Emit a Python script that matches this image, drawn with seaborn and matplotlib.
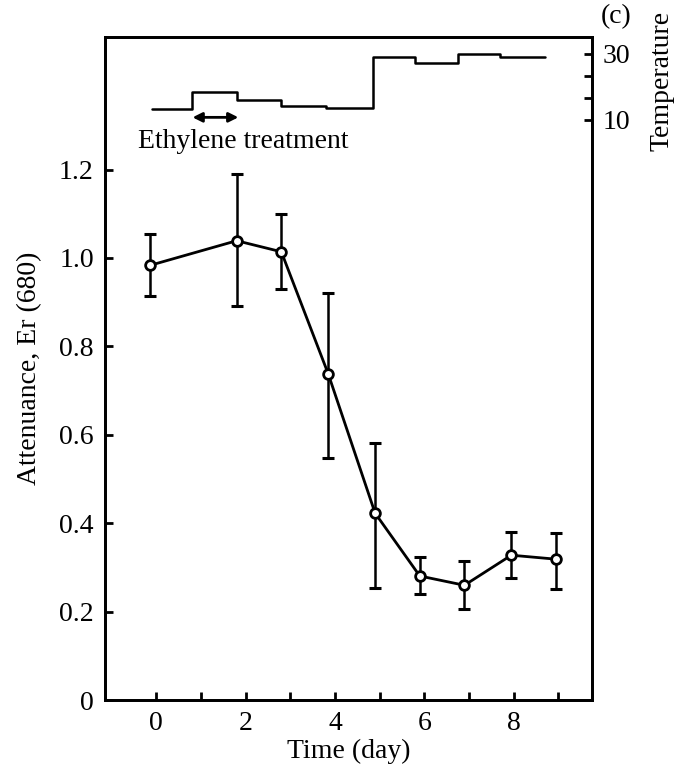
import numpy as np
import pandas as pd
import matplotlib
matplotlib.use("Agg")
import matplotlib.pyplot as plt
import seaborn as sns

# ── Data ─────────────────────────────────────────────────────
days = [-0.15, 1.8, 2.8, 3.85, 4.9, 5.9, 6.9, 7.95, 8.95]
attenuance = [0.983, 1.039, 1.014, 0.738, 0.423, 0.281, 0.260, 0.328, 0.319]
err_upper = [1.055, 1.190, 1.100, 0.921, 0.582, 0.324, 0.315, 0.380, 0.378]
err_lower = [0.915, 0.892, 0.930, 0.548, 0.254, 0.240, 0.206, 0.276, 0.251]

temp_days = [-0.1, 0.8, 1.8, 2.8, 3.8, 4.85, 5.8, 6.75, 7.7, 8.7]
temp_vals = [13.3, 18.5, 16.1, 14.2, 13.6, 29.1, 27.3, 30.0, 29.1, 29.1]

x_ticks = [0, 2, 4, 6, 8]
y_ticks = [0, 0.2, 0.4, 0.6, 0.8, 1.0, 1.2]
y_tick_labels = ["0", "0.2", "0.4", "0.6", "0.8", "1.0", "1.2"]
t_ticks = [10, 16.67, 23.33, 30]
t_tick_labels = ["10", "", "", "30"]

df = pd.DataFrame({"day": days, "att": attenuance})
tdf = pd.DataFrame({"day": temp_days, "temp": temp_vals})

sns.set_theme(style="ticks")
plt.rcParams["font.family"] = ["Liberation Serif", "DejaVu Serif"]
plt.rcParams["font.size"] = 20
plt.rcParams["text.color"] = "black"
plt.rcParams["axes.labelcolor"] = "black"
plt.rcParams["xtick.color"] = "black"
plt.rcParams["ytick.color"] = "black"
plt.rcParams["axes.edgecolor"] = "black"

fs = 20
fig = plt.figure(figsize=(6.77, 7.67), dpi=100)
ax = fig.add_axes([0.155, 0.087, 0.719, 0.865])

# error bars
yerr = [np.array(attenuance) - np.array(err_lower),
        np.array(err_upper) - np.array(attenuance)]
ax.errorbar(days, attenuance, yerr=yerr, fmt="none", ecolor="black",
            elinewidth=1.8, capsize=4, capthick=2.2, zorder=2)

sns.lineplot(data=df, x="day", y="att", ax=ax, color="black", lw=2,
             marker="o", markersize=7, markerfacecolor="white",
             markeredgecolor="black", markeredgewidth=2, zorder=3)

ax.set_xlim(-1.15, 9.75)
ax.set_ylim(0, 1.5)
ax.set_xticks(x_ticks)
ax.set_xticks([1, 3, 5, 7, 9], minor=True)
ax.set_yticks(y_ticks)
ax.set_yticklabels(y_tick_labels)
ax.tick_params(axis="both", which="both", direction="in", length=6, width=2,
               labelsize=fs, pad=8)
ax.set_xlabel("Time (day)", fontsize=fs, labelpad=2)
ax.set_ylabel("Attenuance, Er (680)", fontsize=fs, labelpad=12)
for s in ax.spines.values():
    s.set_linewidth(2)

# temperature on a twin axis
ax2 = ax.twinx()
sns.lineplot(data=tdf, x="day", y="temp", ax=ax2, color="black", lw=1.8,
             drawstyle="steps-post")
ax2.set_ylim(-165.8, 35.2)
ax2.set_yticks(t_ticks)
ax2.set_yticklabels(t_tick_labels)
ax2.tick_params(axis="y", direction="in", length=6, width=2, labelsize=fs, pad=8)
ax2.set_ylabel("")
ax2.set_xlabel("")
for s in ax2.spines.values():
    s.set_linewidth(2)

ax2.annotate("", xy=(0.75, 10.8), xytext=(1.9, 10.8),
             arrowprops=dict(arrowstyle="<|-|>", color="black", lw=2,
                             mutation_scale=14))
ax2.text(-0.42, 3.6, "Ethylene treatment", fontsize=fs, ha="left", va="center")

fig.text(0.978, 0.895, "Temperature", rotation=90, fontsize=fs,
         ha="center", va="center")
fig.text(0.91, 0.978, "(c)", fontsize=fs, ha="center", va="center")

plt.savefig("out.png", dpi=100)
